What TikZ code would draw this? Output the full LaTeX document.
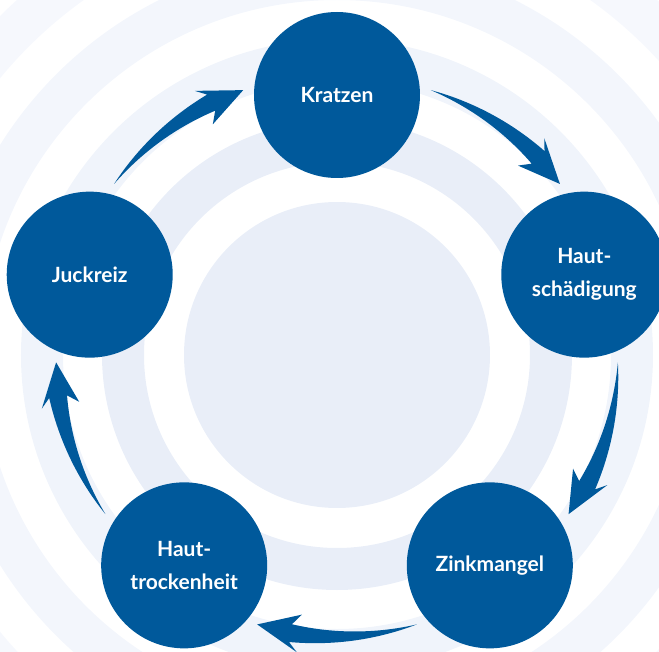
\documentclass[tikz,border=0pt]{standalone}
\usepackage{fontspec}
\setsansfont{Lato}
\usetikzlibrary{positioning}
\definecolor{zinkblue}{RGB}{0,89,155}
\definecolor{ringa}{HTML}{E9EEF8}
\definecolor{ringb}{HTML}{F0F4FB}
\definecolor{ringc}{HTML}{F3F6FC}
\definecolor{ringd}{HTML}{F6F8FD}
\tikzset{stage/.style={circle,fill=zinkblue,minimum size=166pt,inner sep=0pt,
  text=white,align=center,font=\sffamily\bfseries\fontsize{21}{33}\selectfont}}
\tikzset{ring/.style={line width=42pt}}
\newcommand{\rarr}{281}
% tapered arrow, #1 = angle of the gap between two stages
\newcommand{\cyclearrow}[1]{%
  \pgfmathsetmacro{\ta}{#1+16.5}%
  \pgfmathsetmacro{\hb}{#1-9.5}%
  \pgfmathsetmacro{\tp}{#1-16.5}%
  \fill[zinkblue] plot[domain=\ta:\hb,samples=30] (\x:{\rarr+10*(\ta-\x)/(\ta-\hb)})
    -- (\hb+1.8:\rarr+19) -- (\tp:\rarr) -- (\hb+1.8:\rarr-19)
    -- plot[domain=\hb:\ta,samples=30] (\x:{\rarr-8*(\ta-\x)/(\ta-\hb)}) -- cycle;}

\begin{document}
\begin{tikzpicture}[x=1pt,y=1pt]
  \useasboundingbox (-337,-296) rectangle (322,355);
  % background rings
  \fill[ringa] (0,0) circle (153);
  \draw[ring,ringa] (0,0) circle (214);
  \draw[ring,ringb] (0,0) circle (295);
  \draw[ring,ringc] (0,0) circle (376);
  \draw[ring,ringd] (0,0) circle (457);
  % stages
  \node[stage] (kratzen) at (90:260) {Kratzen};
  \node[stage] (haut) at (18:260) {Haut-\\schädigung};
  \node[stage] (zink) at (-54:260) {Zinkmangel};
  \node[stage] (trocken) at (-126:260) {Haut-\\trockenheit};
  \node[stage] (juckreiz) at (162:260) {Juckreiz};
  % arrows
  \foreach \m in {54,-18,-90,-162,126} {\cyclearrow{\m}}
\end{tikzpicture}
\end{document}
